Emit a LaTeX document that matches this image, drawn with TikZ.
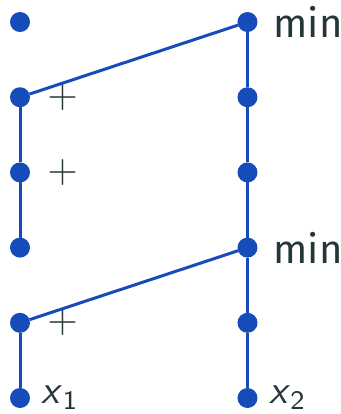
\documentclass[tikz,border=0pt]{standalone}
\usepackage{amsmath}
\usepackage{fontspec}
\setmainfont{Fira Sans}
\usetikzlibrary{positioning}
\definecolor{dotblue}{RGB}{22,76,186}
\definecolor{darkteal}{RGB}{35,55,59}

\begin{document}
\begin{tikzpicture}[
  node distance=16.56pt and 62.25pt,
  dot/.style={circle, fill=dotblue, inner sep=0pt, outer sep=0pt, minimum size=6pt},
  lbl/.style={inner sep=0pt, text=darkteal, font=\fontsize{12}{14}\selectfont},
  op/.style={lbl, font=\fontsize{12.6}{14}\selectfont},
  wire/.style={draw=dotblue, line width=0.9pt}
]
  \useasboundingbox (-6pt,6.6pt) rectangle (96.3pt,-117.6pt);

  % left column
  \node[dot] (l1) {};
  \node[dot, below=of l1] (l2) {};
  \node[dot, below=of l2] (l3) {};
  \node[dot, below=of l3] (l4) {};
  \node[dot, below=of l4] (l5) {};
  \node[dot, below=of l5] (l6) {};
  % right column
  \node[dot, right=of l1] (r1) {};
  \node[dot, below=of r1] (r2) {};
  \node[dot, below=of r2] (r3) {};
  \node[dot, below=of r3] (r4) {};
  \node[dot, below=of r4] (r5) {};
  \node[dot, below=of r5] (r6) {};

  \node[lbl, right=4.6pt of r1] (min1) {min};
  \node[lbl, right=4.6pt of r4] (min2) {min};
  \node[op, right=5pt of l2] (plus1) {$+$};
  \node[op, right=5pt of l3] (plus2) {$+$};
  \node[op, right=5pt of l5] (plus3) {$+$};
  \node[lbl, right=3.4pt of l6] (x1) {\textsf{\textit{x}}$_{\textsf{1}}$};
  \node[lbl, right=3.4pt of r6] (x2) {\textsf{\textit{x}}$_{\textsf{2}}$};

  \draw[wire] (l2) -- (l3);
  \draw[wire] (l3) -- (l4);
  \draw[wire] (l5) -- (l6);
  \draw[wire] (r1) -- (r2);
  \draw[wire] (r2) -- (r3);
  \draw[wire] (r3) -- (r4);
  \draw[wire] (r4) -- (r5);
  \draw[wire] (r5) -- (r6);
  \draw[wire] (l2) -- (r1);
  \draw[wire] (l5) -- (r4);
\end{tikzpicture}
\end{document}
